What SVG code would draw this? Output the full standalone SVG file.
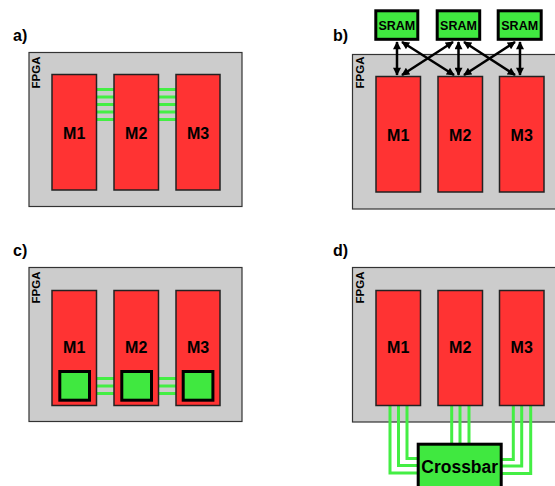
<svg xmlns="http://www.w3.org/2000/svg" width="555" height="486" viewBox="0 0 555 486">
<style>
text{font-family:"Liberation Sans",Arial,Helvetica,sans-serif;font-weight:bold;fill:#000}
.fpga{fill:#cccccc;stroke:#333;stroke-width:1.2}
.mod{fill:#ff3333;stroke:#222;stroke-width:1.5}
.mt{font-size:16px;text-anchor:middle}
.ft{font-size:11.5px}
.pl{font-size:16px}
.st{font-size:12.5px;text-anchor:middle}
.gbox{fill:#40e840;stroke:#000;stroke-width:3}
.gw{fill:none;stroke:#44ee44;stroke-width:3}
.arr{stroke:#000;stroke-width:2.5;fill:none;marker-start:url(#ah);marker-end:url(#ah)}
</style>
<defs>
<marker id="ah" viewBox="0 0 10 10" refX="9" refY="5" markerUnits="userSpaceOnUse" markerWidth="9" markerHeight="8" orient="auto-start-reverse">
<path d="M0,0 L10,5 L0,10 z" fill="#000"/>
</marker>
</defs>
<rect width="555" height="486" fill="#fff"/>

<text class="pl" x="13" y="41">a)</text>
<text class="pl" x="333" y="41">b)</text>
<text class="pl" x="13" y="256">c)</text>
<text class="pl" x="333" y="256">d)</text>

<g id="fpga-a"><rect class="fpga" x="29" y="52.5" width="213" height="154"/><text class="ft" transform="translate(40,88.5) rotate(-90)">FPGA</text></g>
<g id="fpga-b"><rect class="fpga" x="352.5" y="54.5" width="210" height="154.5"/><text class="ft" transform="translate(364,88.5) rotate(-90)">FPGA</text></g>
<g id="fpga-c"><rect class="fpga" x="29" y="267.5" width="213" height="154"/><text class="ft" transform="translate(40,303.5) rotate(-90)">FPGA</text></g>
<g id="fpga-d"><rect class="fpga" x="352.5" y="267.5" width="210" height="154.5"/><text class="ft" transform="translate(364,303.5) rotate(-90)">FPGA</text></g>

<g id="connectors">
<path class="gw" d="M96,89.5H114M96,97H114M96,104.5H114M96,112H114M96,119.5H114"/>
<path class="gw" d="M158,89.5H176M158,97H176M158,104.5H176M158,112H176M158,119.5H176"/>
<line class="arr" x1="397" y1="42" x2="397" y2="75"/>
<line class="arr" x1="458.5" y1="42" x2="458.5" y2="75"/>
<line class="arr" x1="520" y1="42" x2="520" y2="75"/>
<line class="arr" x1="402" y1="42" x2="454" y2="75"/>
<line class="arr" x1="453" y1="42" x2="402" y2="75"/>
<line class="arr" x1="464" y1="42" x2="515" y2="75"/>
<line class="arr" x1="515" y1="42" x2="464" y2="75"/>
<path class="gw" d="M90,378.5H121M90,386H121M90,393.5H121"/>
<path class="gw" d="M152,378.5H183M152,386H183M152,393.5H183"/>
<path class="gw" d="M407,405V458.5H420M398.5,405V465.5H420M390,405V473H420"/>
<path class="gw" d="M451.7,405V444M460,405V444M469,405V444"/>
<path class="gw" d="M513.3,405V459.5H500M521.7,405V466H500M530.7,405V473.5H500"/>
</g>

<g id="a-M1"><rect class="mod" x="52" y="74.5" width="44.5" height="115.5"/><text class="mt" x="74.2" y="139">M1</text></g>
<g id="a-M2"><rect class="mod" x="114" y="74.5" width="44.5" height="115.5"/><text class="mt" x="136.2" y="139">M2</text></g>
<g id="a-M3"><rect class="mod" x="176" y="74.5" width="44" height="115.5"/><text class="mt" x="198" y="139">M3</text></g>

<g id="b-M1"><rect class="mod" x="376" y="76.5" width="44.5" height="115.5"/><text class="mt" x="398.2" y="141">M1</text></g>
<g id="b-M2"><rect class="mod" x="438" y="76.5" width="44.5" height="115.5"/><text class="mt" x="460.2" y="141">M2</text></g>
<g id="b-M3"><rect class="mod" x="499.5" y="76.5" width="44.5" height="115.5"/><text class="mt" x="521.7" y="141">M3</text></g>
<g id="b-SRAM1"><rect class="gbox" x="375.8" y="10.8" width="42" height="28.5"/><text class="st" x="396.8" y="30">SRAM</text></g>
<g id="b-SRAM2"><rect class="gbox" x="437.2" y="10.8" width="42.5" height="28.5"/><text class="st" x="458.5" y="30">SRAM</text></g>
<g id="b-SRAM3"><rect class="gbox" x="498.2" y="10.8" width="43" height="28.5"/><text class="st" x="519.7" y="30">SRAM</text></g>

<g id="c-M1"><rect class="mod" x="52" y="290.5" width="44.5" height="115"/><text class="mt" x="74.2" y="353">M1</text></g>
<g id="c-M2"><rect class="mod" x="114" y="290.5" width="44.5" height="115"/><text class="mt" x="136.2" y="353">M2</text></g>
<g id="c-M3"><rect class="mod" x="176" y="290.5" width="44" height="115"/><text class="mt" x="198" y="353">M3</text></g>
<g id="c-R1"><rect class="gbox" x="59.8" y="371.5" width="29.7" height="28.7"/></g>
<g id="c-R2"><rect class="gbox" x="121.8" y="371.5" width="29.7" height="28.7"/></g>
<g id="c-R3"><rect class="gbox" x="183.2" y="371.5" width="29.7" height="28.7"/></g>

<g id="d-M1"><rect class="mod" x="376" y="290.5" width="44.5" height="115"/><text class="mt" x="398.2" y="353">M1</text></g>
<g id="d-M2"><rect class="mod" x="438" y="290.5" width="44.5" height="115"/><text class="mt" x="460.2" y="353">M2</text></g>
<g id="d-M3"><rect class="mod" x="499.5" y="290.5" width="44.5" height="115"/><text class="mt" x="521.7" y="353">M3</text></g>
<g id="d-Crossbar"><rect class="gbox" x="418.2" y="444.2" width="83" height="50"/><text class="mt" style="font-size:17.5px" x="459.7" y="473">Crossbar</text></g>
</svg>
